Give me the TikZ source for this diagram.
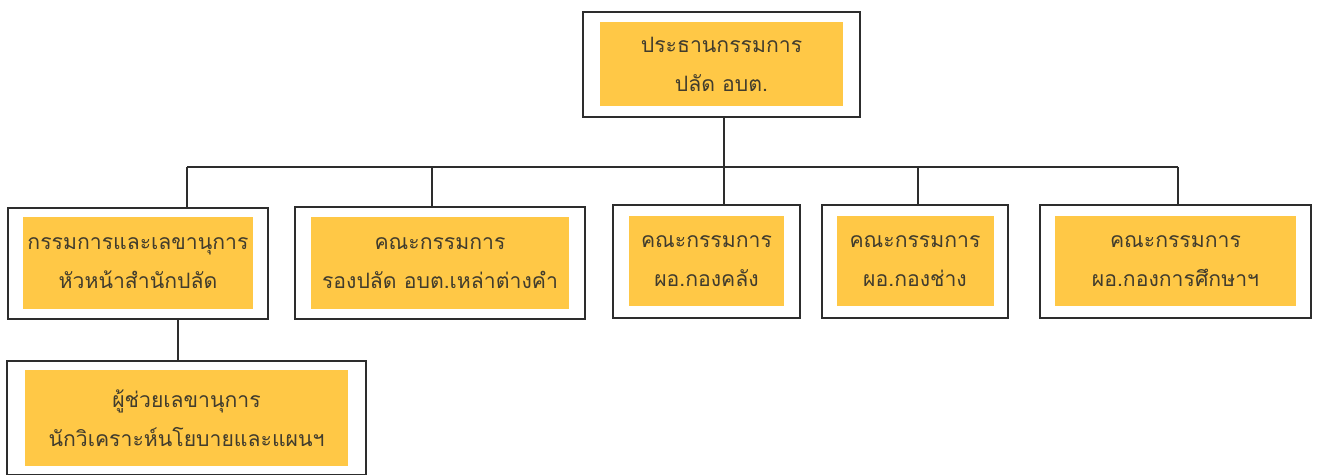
\documentclass[tikz,border=0pt]{standalone}
\usepackage{fontspec}
\newfontfamily\thaifont[Script=Thai]{Loma}
\definecolor{boxfill}{RGB}{255,200,70}
\definecolor{txt}{RGB}{65,60,45}
\definecolor{edge}{RGB}{45,45,45}
\begin{document}
\begin{tikzpicture}[x=0.5pt,y=-0.5pt,
  outerbox/.style={draw=edge,line width=1pt,fill=white,inner sep=0pt},
  innerbox/.style={fill=boxfill,inner sep=0pt,align=center,text=txt,
    font=\thaifont\fontsize{10.6}{19.5}\selectfont},
  link/.style={draw=edge,line width=0.9pt}]
\useasboundingbox[fill=white] (0,0) rectangle (1317,475);
% outer boxes
\node[outerbox,minimum width=138.5pt,minimum height=52.5pt] (top) at (721.5,64.5) {};
\node[outerbox,minimum width=130pt,minimum height=55.5pt] (b1) at (138,263.5) {};
\node[outerbox,minimum width=145pt,minimum height=56pt] (b2) at (440,263) {};
\node[outerbox,minimum width=93.5pt,minimum height=56.5pt] (b3) at (706.5,261.5) {};
\node[outerbox,minimum width=93pt,minimum height=56.5pt] (b4) at (915,261.5) {};
\node[outerbox,minimum width=135.5pt,minimum height=56.5pt] (b5) at (1175.5,261.5) {};
\node[outerbox,minimum width=179.5pt,minimum height=57pt] (b6) at (186.5,418.5) {};
% inner filled boxes with text
\node[innerbox,minimum width=121.5pt,minimum height=42pt] (ttop) at (top) {ประธานกรรมการ\\ปลัด อบต.};
\node[innerbox,minimum width=115pt,minimum height=46pt] (t1) at (b1) {กรรมการและเลขานุการ\\หัวหน้าสำนักปลัด};
\node[innerbox,minimum width=129pt,minimum height=46pt] (t2) at (b2) {คณะกรรมการ\\รองปลัด อบต.เหล่าต่างคำ};
\node[innerbox,minimum width=77.5pt,minimum height=45pt] (t3) at (b3) {คณะกรรมการ\\ผอ.กองคลัง};
\node[innerbox,minimum width=78.5pt,minimum height=45pt] (t4) at (b4) {คณะกรรมการ\\ผอ.กองช่าง};
\node[innerbox,minimum width=120.5pt,minimum height=45pt] (t5) at (b5) {คณะกรรมการ\\ผอ.กองการศึกษาฯ};
\node[innerbox,minimum width=161.5pt,minimum height=48pt] (t6) at (b6) {ผู้ช่วยเลขานุการ\\นักวิเคราะห์นโยบายและแผนฯ};
% connectors
\coordinate (j1) at (187,167);
\coordinate (j2) at (432,167);
\coordinate (j3) at (724,167);
\coordinate (j4) at (918,167);
\coordinate (j5) at (1178,167);
\coordinate (k) at (178,340);
\draw[link] (top.south -| j3) -- (j3);
\draw[link] (j1) -- (j5);
\draw[link] (j1) -- (j1 |- b1.north);
\draw[link] (j2) -- (j2 |- b2.north);
\draw[link] (j3) -- (j3 |- b3.north);
\draw[link] (j4) -- (j4 |- b4.north);
\draw[link] (j5) -- (j5 |- b5.north);
\draw[link] (b1.south -| k) -- (b6.north -| k);
\end{tikzpicture}
\end{document}
